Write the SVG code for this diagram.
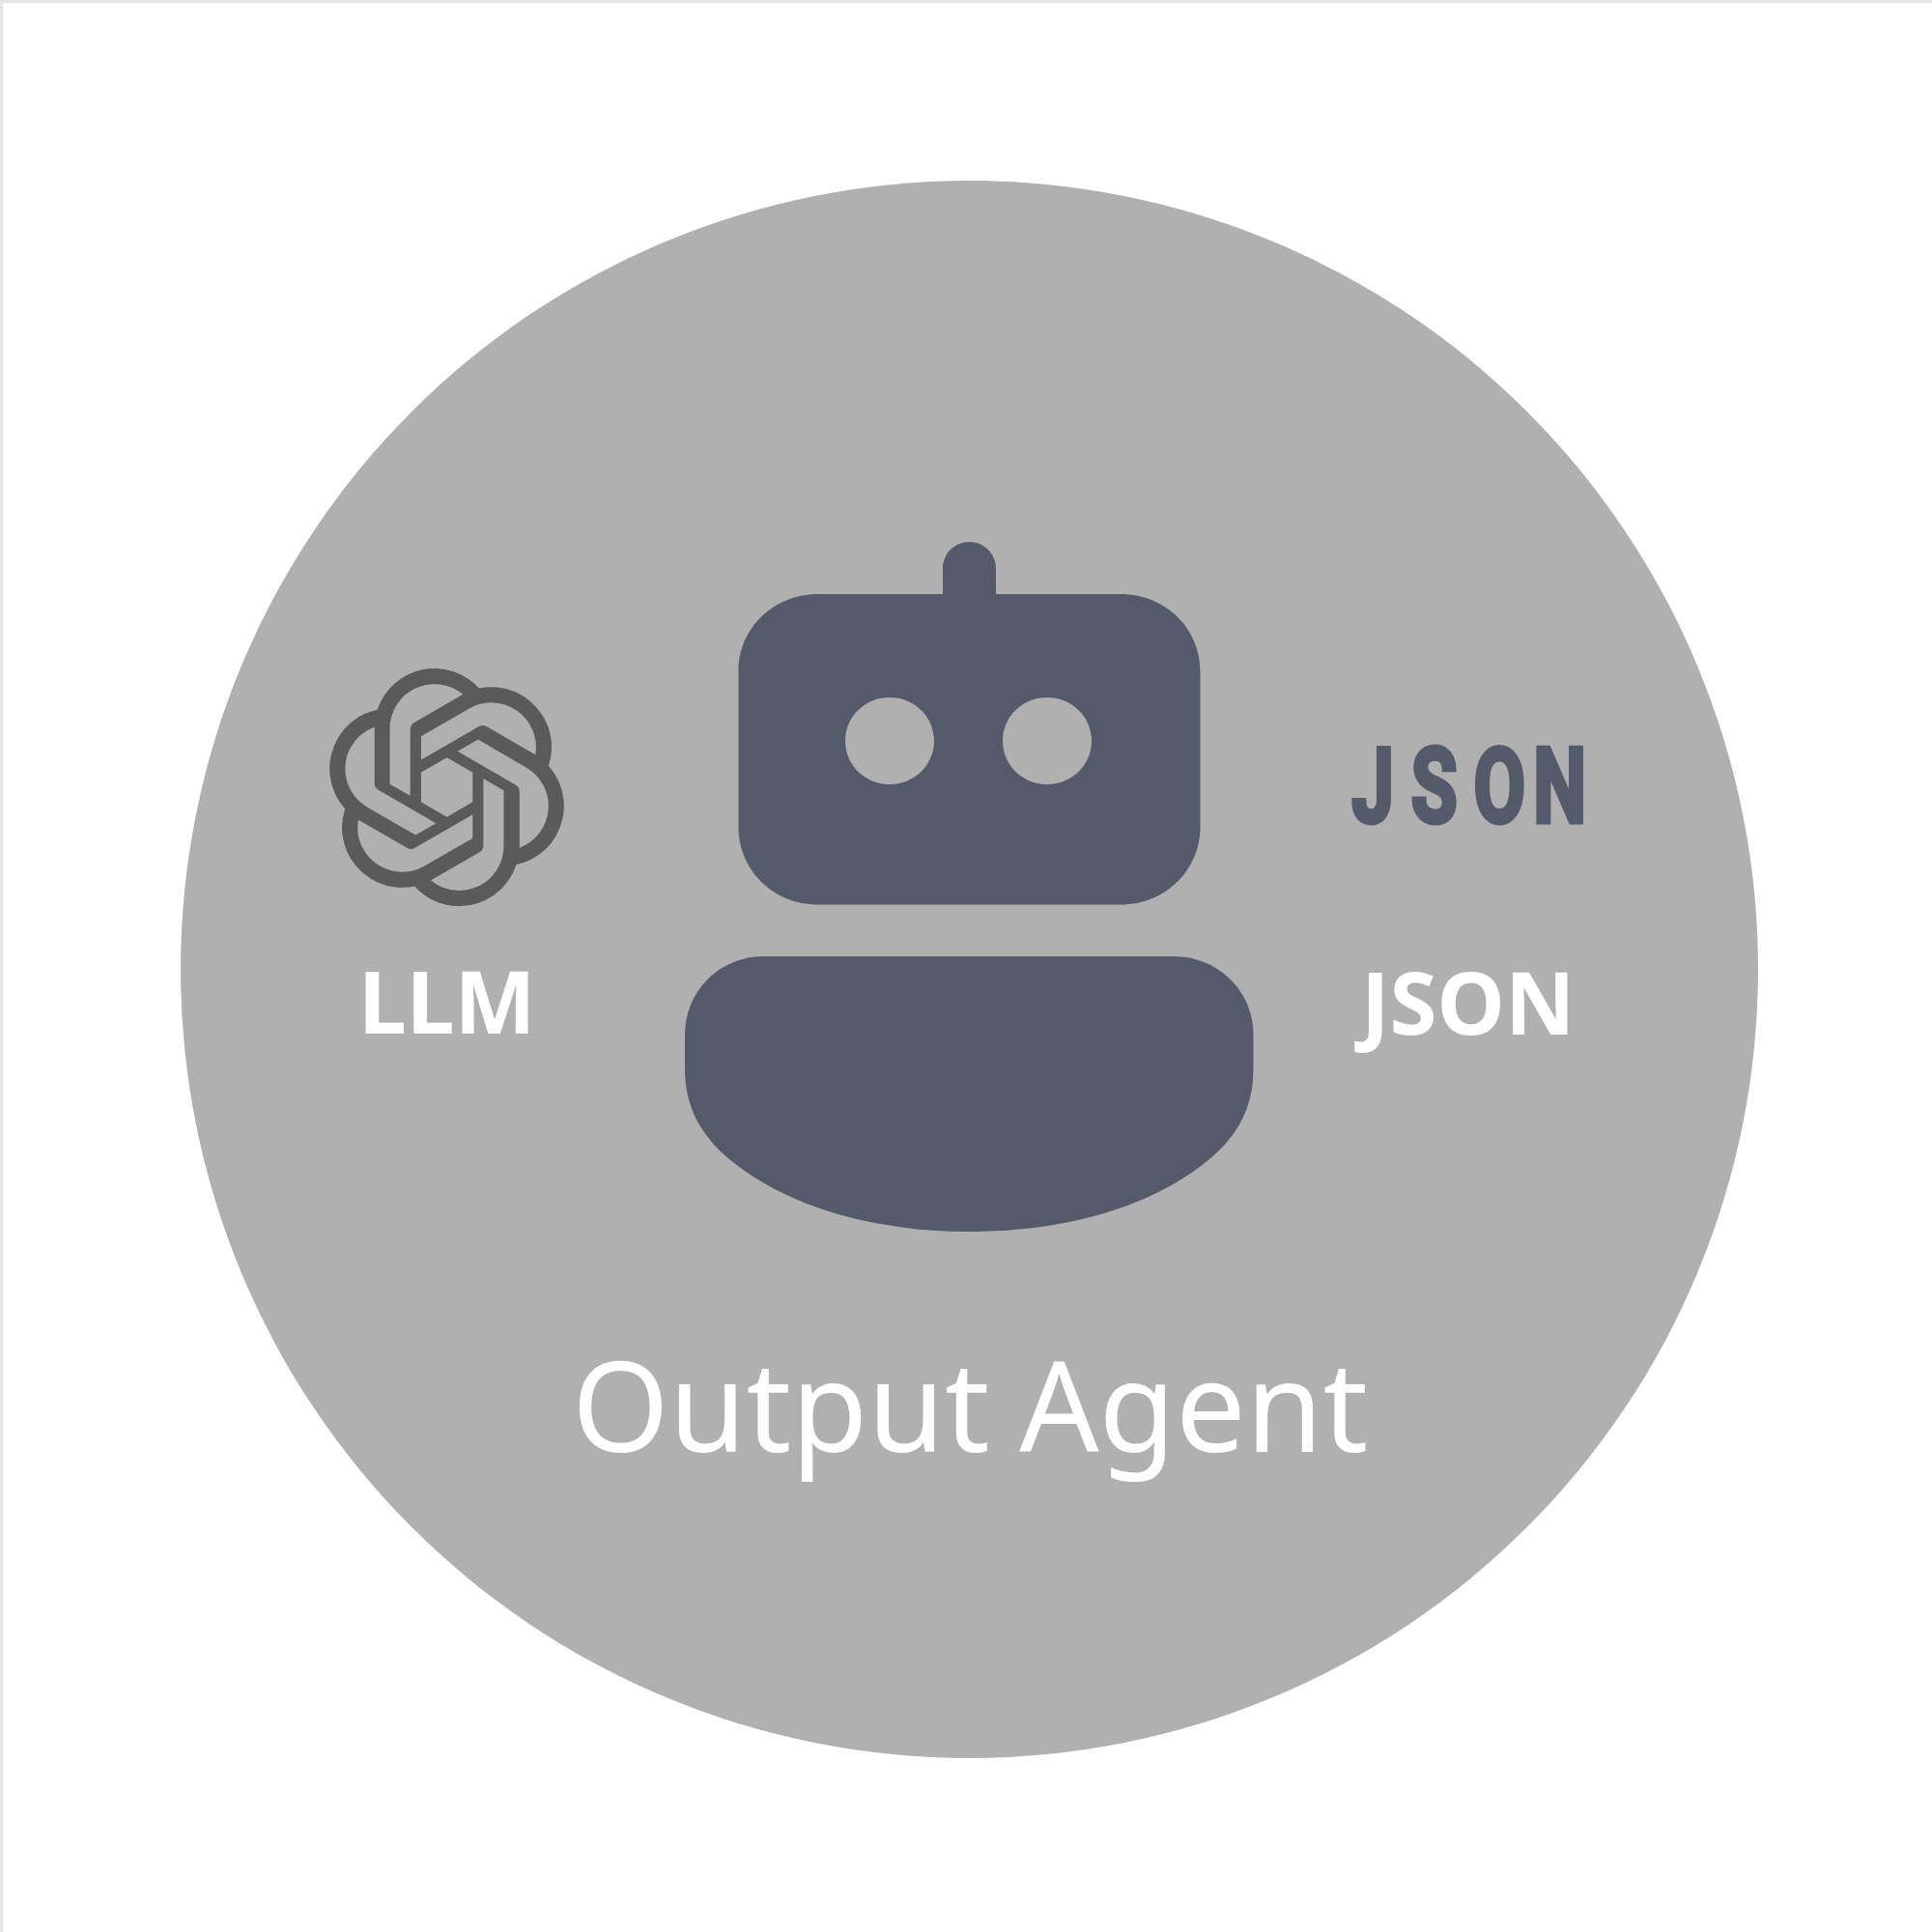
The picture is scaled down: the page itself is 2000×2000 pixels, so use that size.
<svg xmlns="http://www.w3.org/2000/svg" width="2000" height="2000" viewBox="0 0 2000 2000">
<style>
.lbl{font-family:"Noto Sans","Open Sans",sans-serif;fill:#fff}
.b{font-weight:700;font-size:89px}
.dark{fill:#555a6b}
</style>
<rect width="2000" height="2000" fill="#fff"/>
<path d="M1.5 2000V1.5H2000" fill="none" stroke="#e6e6e6" stroke-width="3"/>
<circle id="disc" cx="1003.5" cy="1003.5" r="816.5" fill="#b0b0b0"/>
<g id="robot">
<path class="dark" fill-rule="evenodd" d="M976 615V589C976 573 988 561 1003.500 561C1019 561 1031 573 1031 589V615H1160C1206 615 1242.500 650 1242.500 695V856C1242.500 901 1206 936.500 1160 936.500H847C801 936.500 764.500 901 764.500 856V695C764.500 650 801 615 847 615ZM921 722C895.500 722 875 742 875 767C875 792 895.500 812 921 812C946.500 812 967 792 967 767C967 742 946.500 722 921 722ZM1084 722C1058.500 722 1038 742 1038 767C1038 792 1058.500 812 1084 812C1109.500 812 1130 792 1130 767C1130 742 1109.500 722 1084 722Z"/>
<path class="dark" d="M791 990H1215C1261 990 1297.500 1026 1297.500 1071V1107C1297.500 1145 1282 1175 1252 1200C1192 1250 1102 1275 1003.500 1275C905 1275 815 1250 755 1200C725 1175 709 1145 709 1107V1071C709 1026 745 990 791 990Z"/>
</g>
<g id="llm-logo">
<path transform="translate(339.500 692) scale(10.25)" fill="#5a5a5a" d="M22.2819 9.8211a5.9847 5.9847 0 0 0-.5157-4.9108 6.0462 6.0462 0 0 0-6.5098-2.9A6.0651 6.0651 0 0 0 4.9807 4.1818a5.9847 5.9847 0 0 0-3.9977 2.9 6.0462 6.0462 0 0 0 .7427 7.0966 5.98 5.98 0 0 0 .511 4.9107 6.051 6.051 0 0 0 6.5146 2.9001A5.9847 5.9847 0 0 0 13.2599 24a6.0557 6.0557 0 0 0 5.7718-4.2058 5.9894 5.9894 0 0 0 3.9977-2.9001 6.0557 6.0557 0 0 0-.7475-7.0729zm-9.022 12.6081a4.4755 4.4755 0 0 1-2.8764-1.0408l.1419-.0804 4.7783-2.7582a.7948.7948 0 0 0 .3927-.6813v-6.7369l2.02 1.1686a.071.071 0 0 1 .038.052v5.5826a4.504 4.504 0 0 1-4.4945 4.4944zm-9.6607-4.1254a4.4708 4.4708 0 0 1-.5346-3.0137l.142.0852 4.783 2.7582a.7712.7712 0 0 0 .7806 0l5.8428-3.3685v2.3324a.0804.0804 0 0 1-.0332.0615L9.74 19.9502a4.4992 4.4992 0 0 1-6.1408-1.6464zM2.3408 7.8956a4.485 4.485 0 0 1 2.3655-1.9728V11.6a.7664.7664 0 0 0 .3879.6765l5.8144 3.3543-2.0201 1.1685a.0757.0757 0 0 1-.071 0l-4.8303-2.7865A4.504 4.504 0 0 1 2.3408 7.872zm16.5963 3.8558L13.1038 8.364 15.1192 7.2a.0757.0757 0 0 1 .071 0l4.8303 2.7913a4.4944 4.4944 0 0 1-.6765 8.1042v-5.6772a.79.79 0 0 0-.407-.667zm2.0107-3.0231l-.142-.0852-4.7735-2.7818a.7759.7759 0 0 0-.7854 0L9.409 9.2297V6.8974a.0662.0662 0 0 1 .0284-.0615l4.8303-2.7866a4.4992 4.4992 0 0 1 6.6802 4.66zM8.3065 12.863l-2.02-1.1638a.0804.0804 0 0 1-.038-.0567V6.0742a4.4992 4.4992 0 0 1 7.3757-3.4537l-.142.0805L8.704 5.459a.7948.7948 0 0 0-.3927.6813zm1.0976-2.3654l2.602-1.4998 2.6069 1.4998v2.9994l-2.5974 1.4997-2.6067-1.4997Z"/>
</g>
<g id="json-icon">
<text class="dark" transform="translate(1398 850.500) scale(.72 1)" x="2 87 177 263" y="0" font-family="Roboto,sans-serif" font-weight="700" font-size="108" stroke="#555a6b" stroke-width="5">JSON</text>
</g>
<g id="labels">
<text class="lbl b" x="371" y="1070">LLM</text>
<text class="lbl b" x="1409" y="1071">JSON</text>
<text class="lbl" x="1004" y="1503" text-anchor="middle" font-size="129" word-spacing="-3">Output Agent</text>
</g>
</svg>
